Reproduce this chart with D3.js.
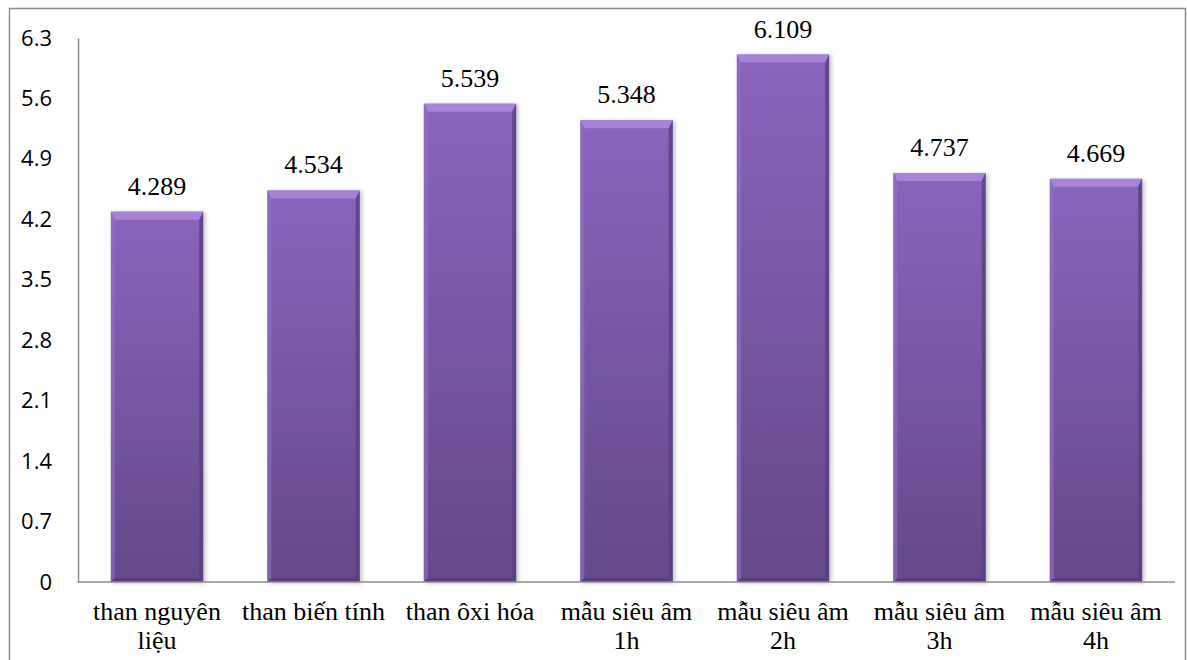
<!DOCTYPE html>
<html>
<head>
<meta charset="utf-8">
<script src="https://cdn.jsdelivr.net/npm/d3@7"></script>
<style>
  body { margin: 0; background: #fff; }
  svg { display: block; }
</style>
</head>
<body>
<div id="chart"></div>
<script>
// data
var categories = [
    ["than nguyên", "liệu"],
    ["than biến tính"],
    ["than ôxi hóa"],
    ["mẫu siêu âm", "1h"],
    ["mẫu siêu âm", "2h"],
    ["mẫu siêu âm", "3h"],
    ["mẫu siêu âm", "4h"]
];
var values = [4.289, 4.534, 5.539, 5.348, 6.109, 4.737, 4.669];
var yTicks = [0, 0.7, 1.4, 2.1, 2.8, 3.5, 4.2, 4.9, 5.6, 6.3];

var W = 1187, H = 660;
var margin = {top: 38, right: 12, bottom: 78, left: 78},
    width = W - margin.left - margin.right,
    height = H - margin.top - margin.bottom;

var svg = d3.select("#chart")
    .append("svg")
    .attr("width", W)
    .attr("height", H);

// outer chart frame
svg.append("rect")
    .attr("x", 9.5).attr("y", 8.5)
    .attr("width", 1176).attr("height", 700)
    .attr("fill", "none")
    .attr("stroke", "#8c8c8c")
    .attr("stroke-width", 1.5);

var defs = svg.append("defs");
var grad = defs.append("linearGradient")
    .attr("id", "barGrad")
    .attr("x1", 0).attr("y1", 0).attr("x2", 0).attr("y2", 1);
grad.append("stop").attr("offset", "0%").attr("stop-color", "#8a64bd");
grad.append("stop").attr("offset", "100%").attr("stop-color", "#654889");

var shadow = defs.append("filter").attr("id", "shadow")
    .attr("x", "-10%").attr("y", "-10%").attr("width", "130%").attr("height", "130%");
shadow.append("feDropShadow")
    .attr("dx", 2).attr("dy", 1).attr("stdDeviation", 2)
    .attr("flood-color", "#000").attr("flood-opacity", 0.25);

var g = svg.append("g")
    .attr("transform", `translate(${margin.left},${margin.top})`);

var x = d3.scaleBand()
    .domain(d3.range(categories.length))
    .range([0, width])
    .paddingInner(0.41)
    .paddingOuter(0.21);

var y = d3.scaleLinear()
    .domain([0, 6.3])
    .range([height, 0]);

// y axis
var yAxis = g.append("g")
    .call(d3.axisLeft(y).tickValues(yTicks).tickSize(0).tickPadding(26)
        .tickFormat(d => d === 0 ? "0" : d3.format(".1f")(d)));
yAxis.select(".domain").attr("stroke", "#8c8c8c").attr("stroke-width", 1.5);
yAxis.selectAll("text")
    .attr("font-family", "'Open Sans', sans-serif")
    .attr("font-size", "22px")
    .attr("fill", "#000");

// bars
var bars = g.selectAll(".bar")
    .data(values)
    .enter()
    .append("g")
    .attr("class", "bar")
    .attr("filter", "url(#shadow)");

bars.append("rect")
    .attr("x", (d, i) => x(i))
    .attr("y", d => y(d))
    .attr("width", x.bandwidth())
    .attr("height", d => height - y(d))
    .attr("fill", "url(#barGrad)");

// bevel edges
var bt = 8, bs = 4;
bars.append("path")
    .attr("fill", "#a887d8")
    .attr("opacity", 0.9)
    .attr("d", (d, i) => {
        var x0 = x(i), x1 = x(i) + x.bandwidth(), y0 = y(d);
        return `M${x0},${y0}L${x1},${y0}L${x1 - bs},${y0 + bt}L${x0 + bs},${y0 + bt}Z`;
    });
bars.append("path")
    .attr("fill", "#5a3e82")
    .attr("opacity", 0.8)
    .attr("d", (d, i) => {
        var x1 = x(i) + x.bandwidth(), y0 = y(d);
        return `M${x1},${y0}L${x1},${height}L${x1 - bs},${height - bs}L${x1 - bs},${y0 + bt}Z`;
    });
bars.append("path")
    .attr("fill", "#9272c4")
    .attr("opacity", 0.6)
    .attr("d", (d, i) => {
        var x0 = x(i), y0 = y(d);
        return `M${x0},${y0}L${x0 + bs},${y0 + bt}L${x0 + bs},${height - bs}L${x0},${height}Z`;
    });
bars.append("path")
    .attr("fill", "#553a78")
    .attr("opacity", 0.7)
    .attr("d", (d, i) => {
        var x0 = x(i), x1 = x(i) + x.bandwidth();
        return `M${x0},${height}L${x0 + bs},${height - bs}L${x1 - bs},${height - bs}L${x1},${height}Z`;
    });

// baseline
g.append("line")
    .attr("x1", 0).attr("x2", width)
    .attr("y1", height).attr("y2", height)
    .attr("stroke", "#8c8c8c")
    .attr("stroke-width", 1.5);

// value labels
g.selectAll(".val")
    .data(values)
    .enter()
    .append("text")
    .attr("x", (d, i) => x(i) + x.bandwidth() / 2)
    .attr("y", d => y(d) - 17)
    .attr("text-anchor", "middle")
    .attr("font-family", "'Liberation Serif', 'Times New Roman', serif")
    .attr("font-size", "26px")
    .attr("fill", "#000")
    .text(d => d3.format(".3f")(d));

// category labels
var cats = g.selectAll(".cat")
    .data(categories)
    .enter()
    .append("text")
    .attr("text-anchor", "middle")
    .attr("font-family", "'Liberation Serif', 'Times New Roman', serif")
    .attr("font-size", "26px")
    .attr("fill", "#000");
cats.selectAll("tspan")
    .data((d, i) => d.map(t => ({t: t, i: i})))
    .enter()
    .append("tspan")
    .attr("x", d => x(d.i) + x.bandwidth() / 2)
    .attr("y", (d, j) => height + 38 + j * 29)
    .text(d => d.t);
</script>
</body>
</html>
